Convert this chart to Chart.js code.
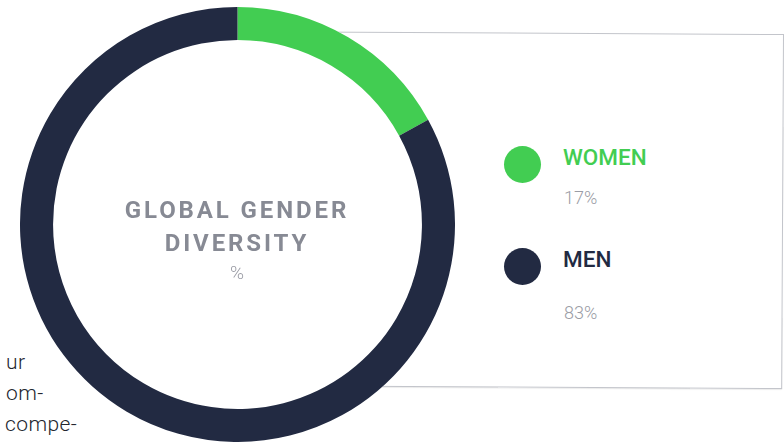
<!DOCTYPE html>
<html>
<head>
<meta charset="utf-8">
<script src="https://cdn.jsdelivr.net/npm/chart.js@4.4.1/dist/chart.umd.min.js"></script>
<style>
  html, body { margin: 0; padding: 0; background: #fff; }
  #wrap { position: relative; width: 784px; height: 443px; overflow: hidden; font-family: Roboto, "Open Sans", sans-serif; }
  #box {
    position: absolute; left: 150px; top: 34px; width: 632px; height: 353px;
    border: 1px solid #c3c5cb; box-shadow: 0 1px 1px rgba(0,0,0,0.08);
    transform: rotate(0.3deg); transform-origin: 100% 0;
  }
  #chart-holder { position: absolute; left: 20px; top: 7px; width: 435px; height: 435px; }
  .side { position: absolute; font-size: 21px; font-weight: 300; color: #23262e; white-space: nowrap; line-height: 21px; letter-spacing: 0.4px; }
  .center { position: absolute; left: 37px; width: 400px; text-align: center; color: #878a94; white-space: nowrap; }
  .title { font-size: 24px; font-weight: 700; letter-spacing: 2.9px; line-height: 24px; }
  .unit { font-size: 19px; font-weight: 300; line-height: 19px; color: #9a9ca5; }
  .leg-dot { position: absolute; width: 37px; height: 37px; border-radius: 50%; }
  .leg-name { position: absolute; font-size: 22.5px; font-weight: 500; line-height: 22px; white-space: nowrap; }
  .leg-val { position: absolute; font-size: 18px; font-weight: 300; line-height: 18px; color: #9a9ca5; white-space: nowrap; }
</style>
</head>
<body>
<div id="wrap">
  <div id="box"></div>
  <div class="side" style="left:6px; top:352px;">ur</div>
  <div class="side" style="left:6px; top:383px;">om-</div>
  <div class="side" style="left:5px; top:414px;">compe-</div>
  <div id="chart-holder"><canvas id="donut" width="435" height="435"></canvas></div>
  <div class="center title" style="top:198px;">GLOBAL GENDER</div>
  <div class="center title" style="top:231px;">DIVERSITY</div>
  <div class="center unit" style="top:263px;">%</div>
  <div id="legend"></div>
</div>
<script>
const labels = ['WOMEN', 'MEN'];
const shares = [17, 83];
const colors = ['#42cd52', '#222a42'];

// legend layout: row top (dot + name) and value row top for each entry
const legendRowTops = [146, 248];
const legendValTops = [189, 304];

// white disc behind the ring so the box outline disappears inside it
const discPlugin = {
  id: 'disc',
  beforeDatasetsDraw(chart) {
    const arc = chart.getDatasetMeta(0).data[0];
    if (!arc) return;
    const ctx = chart.ctx;
    ctx.save();
    ctx.beginPath();
    ctx.arc(arc.x, arc.y, arc.outerRadius, 0, Math.PI * 2);
    ctx.fillStyle = '#ffffff';
    ctx.fill();
    ctx.restore();
  }
};

new Chart(document.getElementById('donut'), {
  type: 'doughnut',
  data: {
    labels: labels,
    datasets: [{
      data: shares,
      backgroundColor: colors,
      borderWidth: 0,
      hoverOffset: 0
    }]
  },
  options: {
    responsive: false,
    animation: false,
    cutout: '84.8%',
    layout: { padding: 0 },
    plugins: {
      legend: { display: false },
      tooltip: { enabled: false }
    }
  },
  plugins: [discPlugin]
});

const legend = document.getElementById('legend');
labels.forEach((name, i) => {
  const top = legendRowTops[i];
  legend.innerHTML += `
    <div class="leg-dot" style="left:504px; top:${top}px; background:${colors[i]};"></div>
    <div class="leg-name" style="left:563px; top:${top}px; color:${colors[i]};">${name}</div>
    <div class="leg-val" style="left:564px; top:${legendValTops[i]}px;">${shares[i]}%</div>
  `;
});
</script>
</body>
</html>
